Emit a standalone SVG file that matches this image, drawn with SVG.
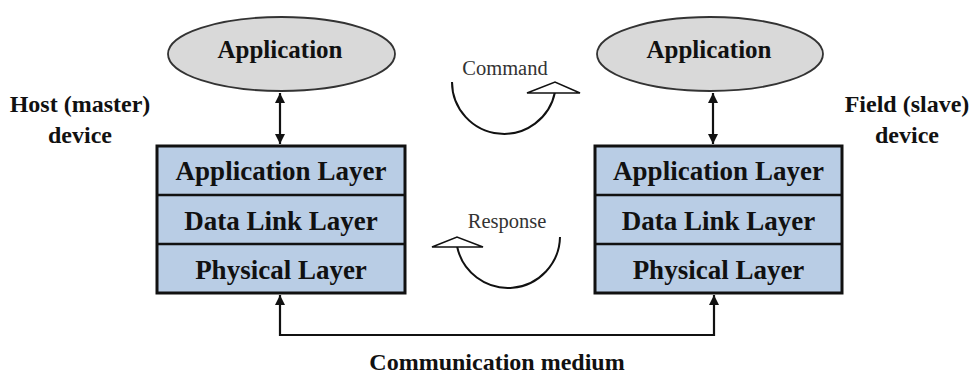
<svg xmlns="http://www.w3.org/2000/svg" width="970" height="376" viewBox="0 0 970 376">
  <style>
    .bold { font-family: "Liberation Serif", "Times New Roman", serif; font-weight: bold; fill: #111; text-anchor: middle; }
    .app { font-size: 25px; }
    .layer { font-size: 27px; }
    .side { font-size: 24px; }
    .note { font-family: "Liberation Serif", "Times New Roman", serif; font-size: 20.5px; fill: #333; text-anchor: middle; }
    .ellipse { fill: #d9d9d9; stroke: #333; stroke-width: 1.8; }
    .stack { fill: #b9cde5; stroke: #111; stroke-width: 3; }
    .divider { stroke: #111; stroke-width: 2.5; }
    .link { fill: none; stroke: #111; stroke-width: 2.2; }
    .arc { fill: none; stroke: #111; stroke-width: 2; }
    .hollow { fill: #fff; stroke: #111; stroke-width: 1.6; stroke-linejoin: miter; }
  </style>
  <defs>
    <marker id="head" viewBox="0 0 10 10" refX="10" refY="5" markerWidth="4.6" markerHeight="4.6" orient="auto-start-reverse" markerUnits="strokeWidth">
      <path d="M0,0 L10,5 L0,10 Z" fill="#111"/>
    </marker>
  </defs>

  <!-- side labels -->
  <g id="host-label">
    <text class="bold side" x="80" y="112">Host (master)</text>
    <text class="bold side" x="80" y="143">device</text>
  </g>
  <g id="field-label">
    <text class="bold side" x="907" y="112">Field (slave)</text>
    <text class="bold side" x="907" y="143">device</text>
  </g>

  <!-- host side -->
  <g id="host-app">
    <ellipse class="ellipse" cx="281.5" cy="54" rx="113.5" ry="37"/>
    <text class="bold app" x="280" y="58">Application</text>
  </g>
  <g id="host-stack">
    <rect class="stack" x="157" y="146" width="248" height="147"/>
    <line class="divider" x1="157" y1="195" x2="405" y2="195"/>
    <line class="divider" x1="157" y1="244" x2="405" y2="244"/>
    <text class="bold layer" x="281" y="180">Application Layer</text>
    <text class="bold layer" x="281" y="230">Data Link Layer</text>
    <text class="bold layer" x="281" y="279">Physical Layer</text>
  </g>

  <!-- field side -->
  <g id="field-app">
    <ellipse class="ellipse" cx="710" cy="54" rx="113" ry="37"/>
    <text class="bold app" x="709" y="58">Application</text>
  </g>
  <g id="field-stack">
    <rect class="stack" x="595" y="146" width="247" height="147"/>
    <line class="divider" x1="595" y1="195" x2="842" y2="195"/>
    <line class="divider" x1="595" y1="244" x2="842" y2="244"/>
    <text class="bold layer" x="718.5" y="180">Application Layer</text>
    <text class="bold layer" x="718.5" y="230">Data Link Layer</text>
    <text class="bold layer" x="718.5" y="279">Physical Layer</text>
  </g>

  <!-- command / response indicators -->
  <g id="command">
    <path class="arc" d="M452,82 A52,52 0 0 0 555,92"/>
    <polygon class="hollow" points="527,93 555,82 580,93"/>
    <text class="note" x="505" y="75">Command</text>
  </g>
  <g id="response">
    <path class="arc" d="M560,237 A52,52 0 0 1 457,246"/>
    <polygon class="hollow" points="432,247 457,237 483,247"/>
    <text class="note" x="507" y="228">Response</text>
  </g>

  <!-- connectors -->
  <g id="connectors">
    <line class="link" x1="280" y1="93" x2="280" y2="144" marker-start="url(#head)" marker-end="url(#head)"/>
    <line class="link" x1="713" y1="93" x2="713" y2="144" marker-start="url(#head)" marker-end="url(#head)"/>
    <polyline class="link" points="280,295 280,335 714,335 714,295" marker-start="url(#head)" marker-end="url(#head)"/>
  </g>

  <text id="medium-label" class="bold side" x="497" y="370">Communication medium</text>
</svg>
